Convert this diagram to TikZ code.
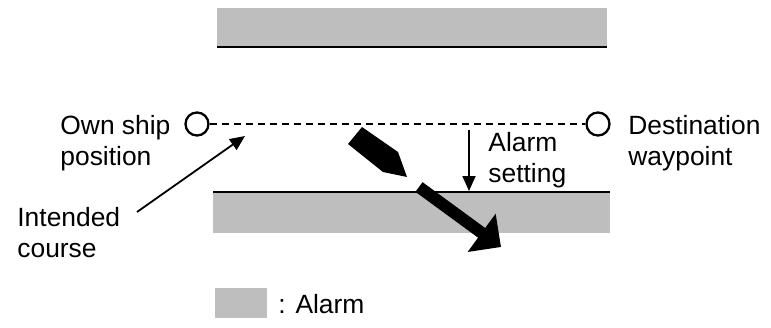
\documentclass[tikz,border=0pt]{standalone}
\usepackage{fontspec}
\setmainfont{Liberation Sans}
\usetikzlibrary{arrows.meta}
\definecolor{alarmgray}{RGB}{190,190,190}
\begin{document}
\begin{tikzpicture}[x=0.5pt,y=-0.5pt,
  lbl/.style={font=\fontsize{13.2pt}{15.5pt}\selectfont, inner sep=0pt, align=left, anchor=base west},
  wp/.style={circle, draw, line width=1.15pt, minimum size=11.5pt, inner sep=0pt, fill=white},
  edgeline/.style={line width=1.3pt},
  thinarrow/.style={line width=0.9pt, -{Triangle[length=7.5pt,width=6.5pt]}}]
\useasboundingbox (0,0) rectangle (771,327);
% alarm zones
\fill[alarmgray] (217,8) rectangle (607,48);
\draw[edgeline] (217,47) -- (607,47);
\fill[alarmgray] (213,192) rectangle (610,233);
\draw[edgeline] (213,192) -- (610,192);
% waypoints and intended course
\node[wp] (own) at (197,124) {};
\node[wp] (dest) at (598,124) {};
\draw[line width=1.1pt, dash pattern=on 3.5pt off 2.5pt] (own) -- (dest);
% labels (base anchor = baseline of last line)
\node[lbl] (ownlbl) at (60,165) {Own ship\\position};
\node[lbl] (destlbl) at (628,165) {Destination\\waypoint};
\node[lbl] (alarmlbl) at (488,182) {Alarm\\setting};
\node[lbl] (intlbl) at (17,257) {Intended\\course};
% intended course pointer
\coordinate (icfrom) at (137,212);
\coordinate (icto) at (245,136);
\draw[thinarrow] (icfrom) -- (icto);
% alarm setting pointer
\coordinate (asfrom) at (469,130);
\coordinate (asto) at (469,191);
\draw[thinarrow] (asfrom) -- (asto);
% ship symbol
\fill (348,144) -- (362,127) -- (398,152) -- (407,177) -- (383,172) -- cycle;
% ship track
\coordinate (trfrom) at (419,187);
\coordinate (trto) at (501,247);
\draw[line width=6pt, -{Triangle[length=12pt,width=23pt]}] (trfrom) -- (trto);
% legend
\fill[alarmgray] (215,288) rectangle (267,318);
\node[lbl] (legend) at (278,313) {: Alarm};
\end{tikzpicture}
\end{document}
